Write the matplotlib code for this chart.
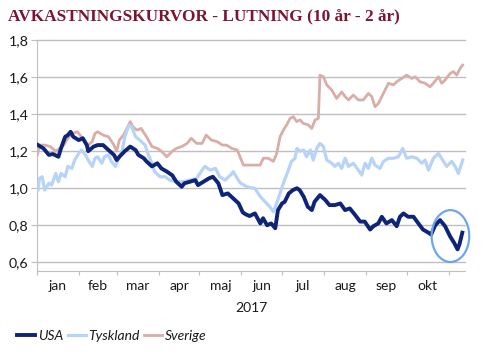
import numpy as np
import matplotlib
matplotlib.use("Agg")
import matplotlib.pyplot as plt
import matplotlib.dates as mdates
from matplotlib.patches import Ellipse
from matplotlib.ticker import FuncFormatter, FixedLocator

# dagar efter 1 jan 2017 och värden (10 år - 2 år)
usa_dag = [1, 5, 9, 12, 16, 18, 21, 23, 25, 27, 31, 34, 37, 38, 42, 45, 49, 53, 57, 59,
           61, 65, 69, 73, 75, 79, 81, 85, 89, 92, 96, 100, 103, 107, 109, 113, 117, 119,
           123, 127, 130, 134, 137, 141, 145, 149, 152, 154, 157, 161, 165, 167, 170, 173,
           176, 178, 181, 183, 186, 189, 192, 194, 197, 200, 203, 205, 209, 213, 216, 220,
           224, 227.5, 231, 235, 238.6, 242, 246, 248.4, 252, 254.6, 258, 262, 265.6, 268,
           270.6, 274, 278, 281.6, 285, 289, 291, 294, 297.6, 301.3, 305, 308, 310.5, 312,
           314]
usa = [1.233, 1.215, 1.18, 1.185, 1.17, 1.217, 1.278, 1.287, 1.305, 1.278, 1.26, 1.27,
       1.233, 1.2, 1.225, 1.233, 1.233, 1.206, 1.18, 1.152, 1.17, 1.2, 1.225, 1.206, 1.18,
       1.162, 1.145, 1.118, 1.135, 1.107, 1.09, 1.07, 1.035, 1.008, 1.027, 1.035, 1.044,
       1.017, 1.035, 1.053, 1.062, 1.027, 0.963, 0.972, 0.945, 0.918, 0.87, 0.86, 0.85,
       0.864, 0.81, 0.838, 0.80, 0.81, 0.784, 0.882, 0.918, 0.927, 0.972, 0.99, 1.0, 0.99,
       0.954, 0.9, 0.882, 0.927, 0.963, 0.936, 0.909, 0.909, 0.918, 0.882, 0.891, 0.855,
       0.82, 0.82, 0.777, 0.795, 0.81, 0.846, 0.81, 0.828, 0.795, 0.846, 0.864, 0.846,
       0.846, 0.81, 0.777, 0.76, 0.75, 0.80, 0.828, 0.795, 0.74, 0.705, 0.67, 0.70, 0.76]

tys_dag = [1, 2, 4, 6, 9, 11, 14, 16, 18, 21, 23, 26, 28, 31, 33, 36, 38, 41, 43, 45, 48,
           50, 53, 55, 58, 60, 63, 65, 68, 70, 73, 76, 80, 82, 85, 87, 91, 95, 98, 103, 108,
           113, 118, 122, 124, 128, 132, 135, 139, 143, 145, 148, 150, 154, 157, 161, 165,
           168.5, 172, 174.6, 177, 179.5, 182, 185.7, 188, 190.6, 192, 194, 197, 199, 202,
           204, 206.6, 209, 211.5, 214, 217.7, 220, 222.6, 225, 227.5, 230, 233.6, 237.3,
           239.8, 242.3, 244.7, 247.2, 249.6, 253.3, 255.8, 259.5, 263.2, 266.9, 270, 273,
           276.7, 280.4, 284.1, 286.5, 289, 292.7, 296.4, 300.1, 302.5, 306.2, 308.7, 311.1,
           314.3]
tyskland = [0.992, 1.053, 1.062, 0.99, 1.027, 1.017, 1.08, 1.035, 1.08, 1.062, 1.118, 1.107,
            1.152, 1.188, 1.206, 1.18, 1.152, 1.118, 1.162, 1.17, 1.135, 1.17, 1.18, 1.145,
            1.118, 1.152, 1.2, 1.278, 1.34, 1.332, 1.278, 1.26, 1.233, 1.188, 1.135, 1.09,
            1.062, 1.062, 1.044, 1.035, 1.035, 1.044, 1.053, 1.098, 1.118, 1.098, 1.107,
            1.062, 1.044, 1.071, 1.09, 1.053, 1.03, 1.012, 1.004, 0.999, 0.954, 0.927, 0.9,
            0.873, 0.918, 0.972, 1.027, 1.098, 1.145, 1.162, 1.215, 1.2, 1.206, 1.17, 1.206,
            1.152, 1.215, 1.242, 1.225, 1.152, 1.135, 1.118, 1.135, 1.107, 1.162, 1.118,
            1.135, 1.098, 1.071, 1.135, 1.107, 1.162, 1.125, 1.107, 1.145, 1.162, 1.162,
            1.17, 1.215, 1.162, 1.17, 1.162, 1.135, 1.152, 1.098, 1.162, 1.188, 1.145, 1.118,
            1.145, 1.118, 1.08, 1.152]

sve_dag = [0.5, 2, 6, 10, 14, 17, 20, 22, 26, 30, 33, 36, 38, 41, 43, 45, 49, 53, 57, 59,
           61, 64, 66, 69, 71, 74, 77, 81, 85, 89, 92, 96, 100, 103, 107, 111, 114, 118, 122,
           125, 129, 133, 137, 140, 144, 148, 150, 152.5, 156, 161, 164.8, 167.2, 170.9,
           174.6, 177.1, 179.5, 182, 184.4, 186.9, 189.4, 191.8, 194.3, 196.7, 200.4, 202.9,
           205.4, 207.8, 209, 211.5, 214, 217.7, 221.3, 225, 227.5, 230, 233.6, 237.3, 241,
           244.7, 247.2, 249.6, 252.1, 254.6, 257, 259.5, 263.2, 265.6, 269.3, 273, 276.7,
           279.2, 282.8, 286.5, 290.2, 292.7, 296.4, 298.8, 301.3, 305, 307.4, 309.9, 312.4,
           314.3]
sverige = [1.18, 1.233, 1.233, 1.225, 1.2, 1.215, 1.233, 1.26, 1.296, 1.305, 1.278, 1.242,
           1.233, 1.252, 1.296, 1.305, 1.287, 1.278, 1.233, 1.2, 1.26, 1.287, 1.314, 1.36,
           1.332, 1.314, 1.323, 1.278, 1.225, 1.215, 1.2, 1.17, 1.2, 1.215, 1.225, 1.242,
           1.27, 1.242, 1.242, 1.287, 1.26, 1.252, 1.233, 1.233, 1.215, 1.206, 1.17, 1.125,
           1.125, 1.125, 1.125, 1.162, 1.162, 1.145, 1.188, 1.278, 1.314, 1.342, 1.377,
           1.386, 1.36, 1.369, 1.35, 1.342, 1.323, 1.369, 1.377, 1.611, 1.602, 1.558, 1.53,
           1.485, 1.52, 1.495, 1.477, 1.503, 1.477, 1.477, 1.512, 1.495, 1.44, 1.458, 1.495,
           1.53, 1.567, 1.558, 1.575, 1.593, 1.611, 1.593, 1.602, 1.575, 1.567, 1.548, 1.567,
           1.602, 1.567, 1.584, 1.62, 1.63, 1.611, 1.648, 1.665]

manader = ["jan", "feb", "mar", "apr", "maj", "jun", "jul", "aug", "sep", "okt"]
ar = "2017"
titel = "AVKASTNINGSKURVOR - LUTNING (10 år - 2 år)"

start = mdates.date2num(np.datetime64("2017-01-01"))

def tid(dagar):
    return start + np.array(dagar, dtype=float)

fig = plt.figure(figsize=(4.88, 3.58), dpi=100)
ax = fig.add_axes([0.0752, 0.244, 0.8777, 0.644])

grid_c = "#BFBFBF"
ax.plot(tid(sve_dag), sverige, color="#D9ADA8", lw=2.0, label="Sverige", zorder=3)
ax.plot(tid(tys_dag), tyskland, color="#B7D3F7", lw=2.3, label="Tyskland", zorder=4)
ax.plot(tid(usa_dag), usa, color="#0E2577", lw=2.8, label="USA", zorder=5)

ax.set_xlim(start, start + 316)
ax.set_ylim(0.555, 1.8)

ax.set_yticks([0.6, 0.8, 1.0, 1.2, 1.4, 1.6, 1.8])
ax.yaxis.set_major_formatter(FuncFormatter(lambda v, p: f"{v:.1f}".replace(".", ",")))
ax.grid(axis="y", color=grid_c, lw=1)
for gl in ax.get_ygridlines():
    gl.set_clip_on(False)

mstart = [mdates.date2num(np.datetime64(f"2017-{m:02d}-01")) for m in range(1, 12)]
mmitt = [(a + b) / 2 for a, b in zip(mstart[:-1], mstart[1:])]
ax.xaxis.set_major_locator(FixedLocator(mstart))
ax.xaxis.set_major_formatter(FuncFormatter(lambda v, p: ""))
ax.xaxis.set_minor_locator(FixedLocator(mmitt))
ax.xaxis.set_minor_formatter(FuncFormatter(lambda v, p: manader[p] if p < len(manader) else ""))

for s in ["top", "right"]:
    ax.spines[s].set_visible(False)
for s in ["left", "bottom"]:
    ax.spines[s].set_color(grid_c)
ax.set_axisbelow(True)

tf = "Lato"
ax.tick_params(axis="y", length=4, color=grid_c, pad=2, labelsize=10.3, labelcolor="#1a1a1a")
ax.tick_params(axis="x", which="major", length=3, color=grid_c)
ax.tick_params(axis="x", which="minor", length=0, pad=7, labelsize=10, labelcolor="#1a1a1a")
for lab in ax.get_yticklabels() + ax.get_xticklabels(minor=True):
    lab.set_fontfamily(tf)

fig.text(0.516, 0.140, ar, ha="center", va="center", fontsize=10, family=tf, color="#1a1a1a")
fig.text(0.016, 0.952, titel, ha="left", va="center", fontsize=12.4, fontweight="bold",
         family="Liberation Serif", color="#7A1430")

ax.add_patch(Ellipse((0.966, 0.150), 0.0878, 0.225, transform=ax.transAxes, fill=False,
                     edgecolor="#6FA5EC", lw=1.6, clip_on=False, zorder=6))

h, l = ax.get_legend_handles_labels()
leg = fig.legend(h[::-1], l[::-1], loc="lower left", bbox_to_anchor=(0.01, 0.01), ncol=3,
                 frameon=False, handlelength=1.3, handletextpad=0.2, columnspacing=0.3,
                 prop={"family": tf, "style": "italic", "size": 10})
for t in leg.get_texts():
    t.set_color("#1a1a1a")

fig.savefig("out.png", dpi=100)
